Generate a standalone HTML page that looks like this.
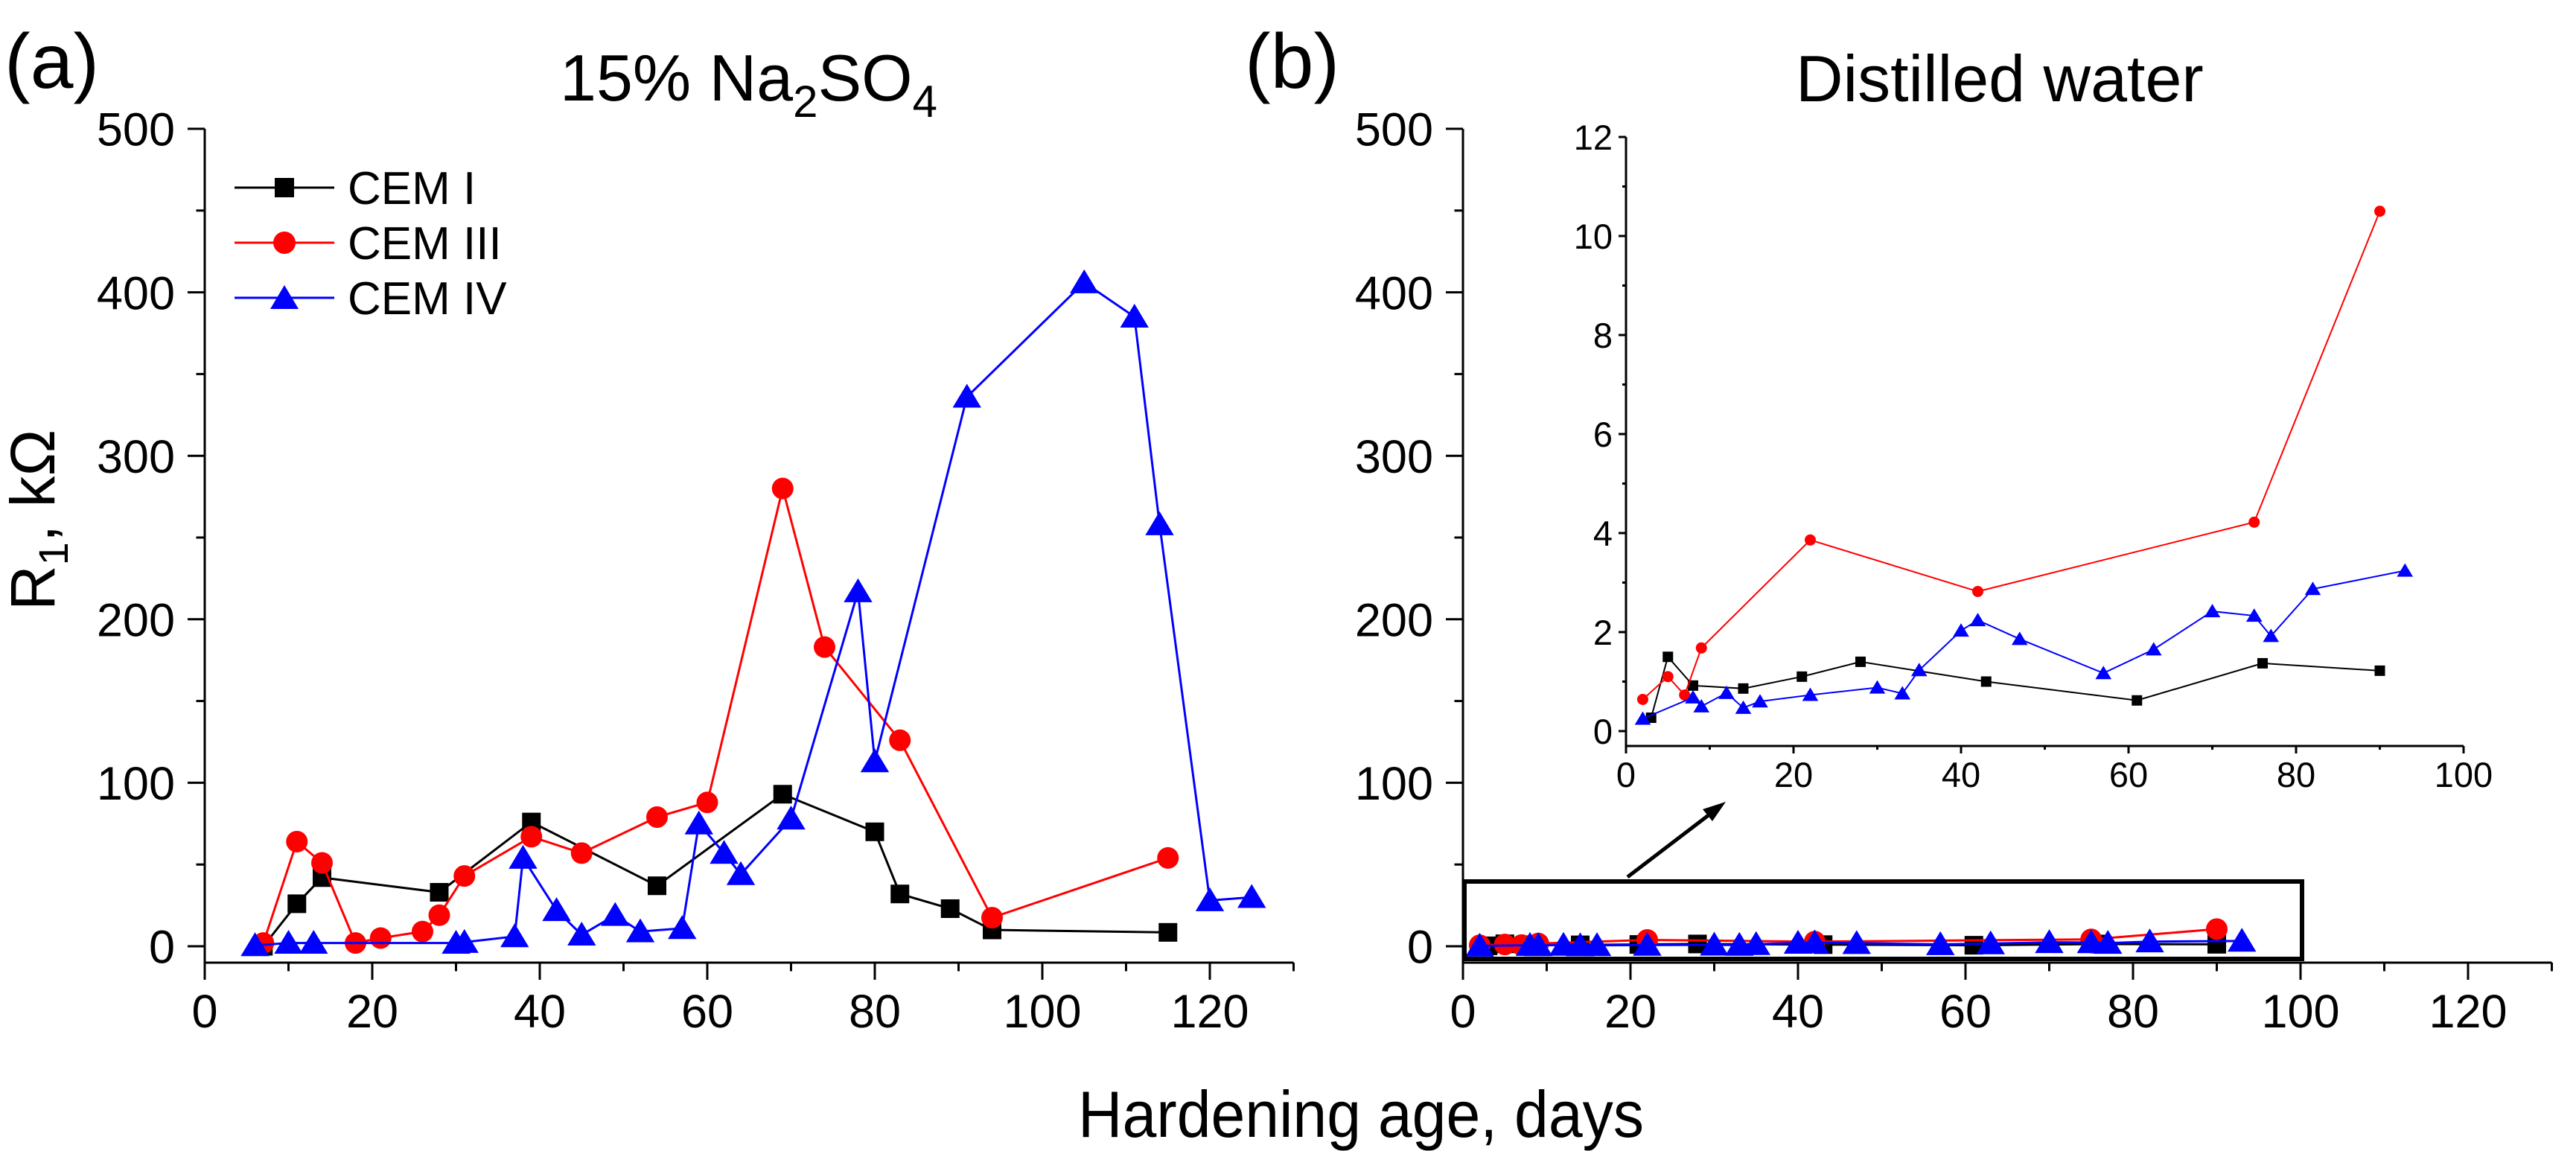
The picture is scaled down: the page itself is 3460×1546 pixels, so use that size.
<!DOCTYPE html>
<html><head><meta charset="utf-8"><style>
html,body{margin:0;padding:0;background:#fff}
svg{display:block;font-family:"Liberation Sans",Arial,sans-serif}
</style></head><body>
<svg id="chart" width="3460" height="1546" viewBox="0 0 3460 1546" xmlns="http://www.w3.org/2000/svg">
<text x="6" y="118" font-size="104">(a)</text>
<text x="1672" y="118" font-size="104">(b)</text>
<text x="752" y="135" font-size="88">15% Na<tspan font-size="60" dy="22">2</tspan><tspan dy="-22">SO</tspan><tspan font-size="60" dy="22">4</tspan></text>
<text x="2412" y="136" font-size="88">Distilled water</text>
<text transform="translate(73,820) rotate(-90)" font-size="84">R<tspan font-size="56" dy="18">1</tspan><tspan dy="-18">, kΩ</tspan></text>
<text x="1448" y="1527" font-size="88" textLength="760" lengthAdjust="spacingAndGlyphs">Hardening age, days</text>
<g id="gA"></g><g id="gB"></g><g id="gI"></g>
<g>
 <g><line x1="315" y1="252" x2="449" y2="252" stroke="#000" stroke-width="3"/><rect x="369" y="239" width="26" height="26" fill="#000"/><text x="467" y="274" font-size="62">CEM I</text></g>
 <g><line x1="315" y1="326" x2="449" y2="326" stroke="#f00" stroke-width="3"/><circle cx="382" cy="326" r="15" fill="#f00"/><text x="467" y="348" font-size="62">CEM III</text></g>
 <g><line x1="315" y1="400" x2="449" y2="400" stroke="#00f" stroke-width="3"/><path d="M382,383 L401,415 L363,415 Z" fill="#00f"/><text x="467" y="422" font-size="62">CEM IV</text></g>
</g>
<rect x="1967" y="1184" width="1125" height="104" fill="none" stroke="#000" stroke-width="6"/>
<line x1="2186" y1="1178" x2="2300" y2="1091" stroke="#000" stroke-width="5"/>
<path d="M2318,1077 L2287,1087 L2300,1103 Z" fill="#000"/>
</svg>
<script>
// Panel (a) data: 15% Na2SO4
const aCem1X=[7,11,14,28,39,54,69,80,83,89,94,115];
const aCem1Y=[0,26,42,33,76,37,93,70,32,23,10,8.5];
const aCem3X=[7,11,14,18,21,26,28,31,39,45,54,60,69,74,83,94,115];
const aCem3Y=[2,64,51,2,5,9,19,43,67,57,79,88,280,183,126,17.5,54];
const aCem4X=[6,10,13,30,31,37,38,42,45,49,52,57,59,62,64,70,78,80,91,105,111,114,120,125];
const aCem4Y=[0.5,2,2,2,2.5,6,54,22,7,19,9,11,75,57,44,78,217,113,336,406,385,258,28,30];
// Panel (b) data: distilled water
const bCem1X=[3,5,8,14,21,28,43,61,76,90];
const bCem1Y=[0.27,1.5,0.92,0.86,1.1,1.4,1.0,0.62,1.37,1.22];
const bCem3X=[2,5,7,9,22,42,75,90];
const bCem3Y=[0.64,1.1,0.73,1.68,3.86,2.82,4.22,10.5];
const bCem4X=[2,8,9,12,14,16,22,30,33,35,40,42,47,57,63,70,75,77,82,93];
const bCem4Y=[0.25,0.68,0.5,0.77,0.47,0.6,0.73,0.88,0.76,1.23,2.03,2.24,1.86,1.17,1.65,2.42,2.33,1.92,2.87,3.24];
const mainXTicks=[0,20,40,60,80,100,120];
const mainYTicks=[0,100,200,300,400,500];
const insetXTicks=[0,20,40,60,80,100];
const insetYTicks=[0,2,4,6,8,10,12];

const NS='http://www.w3.org/2000/svg';
function el(tag,attrs,parent){const e=document.createElementNS(NS,tag);for(const k in attrs)e.setAttribute(k,attrs[k]);parent.appendChild(e);return e;}

function makeAxes(g,o){
  const sx=v=>o.x0+(v-o.xmin)*o.kx, sy=v=>o.y0-(v)*o.ky;
  const axY=el('line',{x1:o.x0,y1:o.yTop,x2:o.x0,y2:o.yBot,stroke:'#000','stroke-width':o.lw},g);
  
  
  const axX=el('line',{x1:o.x0-1,y1:o.yBot,x2:sx(o.xmax),y2:o.yBot,stroke:'#000','stroke-width':o.lw},g);
  
  
  for(let v=o.xmin;v<=o.xmax+1e-9;v+=o.xminor){
    const major=o.xt.includes(v);
    el('line',{x1:sx(v),y1:o.yBot,x2:sx(v),y2:o.yBot+(major?o.tl:o.tl/2),stroke:'#000','stroke-width':o.tw},g);
  }
  o.xt.forEach(v=>{const t=el('text',{x:sx(v),y:o.xlabY,'font-size':o.fs,'text-anchor':'middle'},g);t.textContent=v;
    
    });
  for(let v=0;v<=o.ymax+1e-9;v+=o.yminor){
    const major=o.yt.includes(v);
    el('line',{x1:o.x0,y1:sy(v),x2:o.x0-(major?o.tl:o.tl/2),y2:sy(v),stroke:'#000','stroke-width':o.tw},g);
  }
  o.yt.forEach(v=>{const t=el('text',{x:o.x0-o.ylabGap,y:sy(v)+o.fs*0.36,'font-size':o.fs,'text-anchor':'end'},g);t.textContent=v;
    
    });
  return {sx,sy};
}

function series(g,ax,xs,ys,color,marker,ms,lw,name){
  const pts=xs.map((x,i)=>[ax.sx(x),ax.sy(ys[i])]);
  const pl=el('polyline',{points:pts.map(p=>p.join(',')).join(' '),fill:'none',stroke:color,'stroke-width':lw},g);
  
  
  pts.forEach(p=>{
    let m;
    if(marker==='s') m=el('rect',{x:p[0]-ms/2,y:p[1]-ms/2,width:ms,height:ms,fill:color},g);
    else if(marker==='c') m=el('circle',{cx:p[0],cy:p[1],r:ms/2,fill:color},g);
    else m=el('path',{d:`M${p[0]},${p[1]-ms*0.55} L${p[0]+ms*0.6},${p[1]+ms*0.45} L${p[0]-ms*0.6},${p[1]+ms*0.45} Z`,fill:color},g);
    
    
  });
}

const K=11.25, KY=2.196;
const gA=document.getElementById('gA');


const axA=makeAxes(gA,{name:'panel-a',x0:275,xmin:0,xmax:130,kx:K,y0:1271,ky:KY,yTop:173,yBot:1293,ymax:500,xt:mainXTicks,yt:mainYTicks,xminor:10,yminor:50,tl:23,lw:3,tw:3,fs:63,xlabY:1380,ylabGap:40});
series(gA,axA,aCem1X,aCem1Y,'#000','s',25,3,'panel-a-cem-i');
series(gA,axA,aCem3X,aCem3Y,'#f00','c',29,3,'panel-a-cem-iii');
series(gA,axA,aCem4X,aCem4Y,'#00f','t',32,3,'panel-a-cem-iv');

const gB=document.getElementById('gB');


const axB=makeAxes(gB,{name:'panel-b',x0:1965,xmin:0,xmax:130,kx:K,y0:1271,ky:KY,yTop:173,yBot:1293,ymax:500,xt:mainXTicks,yt:mainYTicks,xminor:10,yminor:50,tl:23,lw:3,tw:3,fs:63,xlabY:1380,ylabGap:40});
series(gB,axB,bCem1X,bCem1Y,'#000','s',25,3,'panel-b-cem-i');
series(gB,axB,bCem3X,bCem3Y,'#f00','c',29,3,'panel-b-cem-iii');
series(gB,axB,bCem4X,bCem4Y,'#00f','t',32,3,'panel-b-cem-iv');

const gI=document.getElementById('gI');


const axI=makeAxes(gI,{name:'inset',x0:2184,xmin:0,xmax:100,kx:K,y0:982,ky:66.5,yTop:184,yBot:1002,ymax:12,xt:insetXTicks,yt:insetYTicks,xminor:10,yminor:1,tl:10,lw:3,tw:3,fs:47,xlabY:1057,ylabGap:18});
series(gI,axI,bCem1X,bCem1Y,'#000','s',14,2,'inset-cem-i');
series(gI,axI,bCem3X,bCem3Y,'#f00','c',15,2,'inset-cem-iii');
series(gI,axI,bCem4X,bCem4Y,'#00f','t',18,2,'inset-cem-iv');
</script>
</body></html>
